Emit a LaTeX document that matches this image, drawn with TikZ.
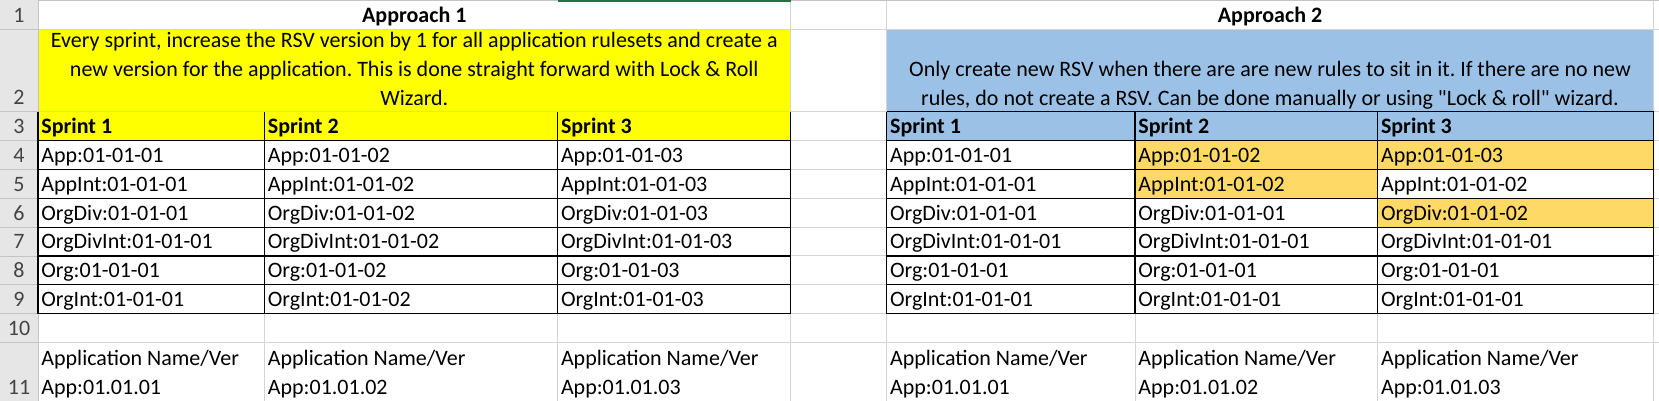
\documentclass[tikz,border=0pt]{standalone}
\usepackage{fontspec}
\setmainfont{Carlito}[Ligatures=TeXOff]
\usepackage{tikz}
\usepackage{xcolor}
\frenchspacing
\definecolor{cellyellow}{HTML}{FFFF00}
\definecolor{cellblue}{HTML}{9BC2E6}
\definecolor{cellorange}{HTML}{FFD966}
\definecolor{gridgray}{HTML}{D4D4D4}
\definecolor{headgray}{HTML}{E6E6E6}
\definecolor{headline}{HTML}{C4C4C4}
\definecolor{headtext}{HTML}{444444}
\definecolor{selgreen}{HTML}{217346}

\tikzset{
  cell/.style = {anchor=base west, inner sep=0pt},
  headcell/.style = {cell, font=\fontsize{11}{14.25}\selectfont\bfseries},
  rownum/.style = {anchor=base, inner sep=0pt, text=headtext},
  gridline/.style = {gridgray, line width=.5pt},
  tabline/.style = {black, line width=.6pt}
}

\begin{document}
\begin{tikzpicture}[x=.5pt, y=-.5pt, font=\fontsize{11}{14.25}\selectfont]
 \useasboundingbox (0,0) rectangle (1659,401);
 % fills
 \fill[headgray] (0,0) rectangle (38,401);
 \fill[cellyellow] (38,29.3) rectangle (790.7,140.55);
 \fill[cellblue] (886.7,29.3) rectangle (1653.5,140.55);
 \fill[cellorange] (1135,140.55) rectangle (1653.5,169.4);
 \fill[cellorange] (1135,169.4) rectangle (1377.6,198.25);
 \fill[cellorange] (1377.6,198.25) rectangle (1653.5,227.1);
 % sheet grid
 \foreach \b in {29.3,111.7,140.55,169.4,198.25,227.1,255.95,284.8,313.65,342.5} {
   \draw[gridline] (790.7,\b) -- (886.7,\b);
   \draw[gridline] (1653.5,\b) -- (1659,\b);
   \draw[headline] (0,\b) -- (38,\b);
 }
 \draw[gridline] (38,29.3) -- (1659,29.3);
 \draw[gridline] (38,111.7) -- (790.7,111.7);
 \draw[gridline] (38,342.5) -- (1659,342.5);
 \foreach \x in {790.7,886.7,1653.5} \draw[gridline] (\x,0) -- (\x,401);
 \foreach \x in {264.5,557.6,1135,1377.6} \draw[gridline] (\x,313.65) -- (\x,401);
 \draw[headline] (38,0) -- (38,401);
 \draw[headline, line width=1pt] (38,0.5) -- (1659,0.5);
 \draw[selgreen, line width=1.2pt] (557.6,0.5) -- (790.7,0.5);
 % table borders
 \draw[tabline] (886.7,111.7) -- (1653.5,111.7);
 \foreach \b in {140.55,169.4,198.25,227.1,255.95,284.8,313.65} {
   \draw[tabline] (38,\b) -- (790.7,\b);
   \draw[tabline] (886.7,\b) -- (1653.5,\b);
 }
 \foreach \x in {38,264.5,557.6,790.7,886.7,1135,1377.6,1653.5}
   \draw[tabline] (\x,111.7) -- (\x,313.65);
 % row numbers
 \foreach \r/\b in {1/29.3,2/111.7,3/140.55,4/169.4,5/198.25,6/227.1,7/255.95,8/284.8,9/313.65,10/342.5,11/401}
   \node[rownum] (row\r) at (19,{\b-7}) {\r};
 % titles
 \node[anchor=base, inner sep=0pt, font=\fontsize{11}{14.25}\selectfont\bfseries] (title1) at (414.3,22.3) {Approach 1};
 \node[anchor=base, inner sep=0pt, font=\fontsize{11}{14.25}\selectfont\bfseries] (title2) at (1270,22.3) {Approach 2};
 \node[anchor=base, inner sep=0pt, align=center] (note1) at (414.3,105) {Every sprint, increase the RSV version by 1 for all application rulesets and create a\\new version for the application. This is done straight forward with Lock \& Roll\\Wizard.};
 \node[anchor=base, inner sep=0pt, align=center] (note2) at (1270,105) {Only create new RSV when there are are new rules to sit in it. If there are no new\\rules, do not create a RSV. Can be done manually or using "Lock \& roll" wizard.};
 % approach 1
 \foreach \s/\x in {1/38,2/264.5,3/557.6} {
   \node[headcell] (a1s\s) at ({\x+3},133.55) {Sprint \s};
   \node[cell, align=left] (a1app\s) at ({\x+3},394) {Application Name/Ver\\App:01.01.0\s};
 }
 \foreach \n [count=\r] in {App,AppInt,OrgDiv,OrgDivInt,Org,OrgInt} {
   \node[cell] (a1c1r\r) at (41,{133.55+28.85*\r}) {\n:01-01-01};
   \node[cell] (a1c2r\r) at (267.5,{133.55+28.85*\r}) {\n:01-01-02};
   \node[cell] (a1c3r\r) at (560.6,{133.55+28.85*\r}) {\n:01-01-03};
 }
 % approach 2
 \foreach \s/\x in {1/886.7,2/1135,3/1377.6} {
   \node[headcell] (a2s\s) at ({\x+3},133.55) {Sprint \s};
   \node[cell, align=left] (a2app\s) at ({\x+3},394) {Application Name/Ver\\App:01.01.0\s};
 }
 \foreach \n/\va/\vb [count=\r] in {App/02/03,AppInt/02/02,OrgDiv/01/02,OrgDivInt/01/01,Org/01/01,OrgInt/01/01} {
   \node[cell] (a2c1r\r) at (889.7,{133.55+28.85*\r}) {\n:01-01-01};
   \node[cell] (a2c2r\r) at (1138,{133.55+28.85*\r}) {\n:01-01-\va};
   \node[cell] (a2c3r\r) at (1380.6,{133.55+28.85*\r}) {\n:01-01-\vb};
 }
\end{tikzpicture}
\end{document}
